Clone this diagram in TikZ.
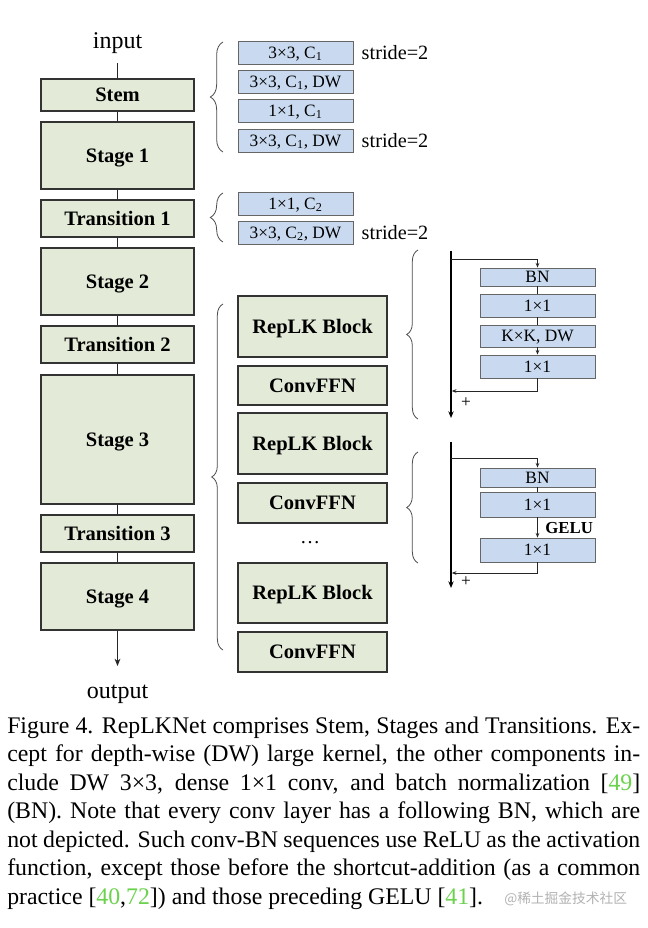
\documentclass[tikz,border=0pt]{standalone}
\usepackage{fontspec}
\setmainfont{Liberation Serif}
\newfontfamily\cjk{Noto Sans CJK SC}
\usetikzlibrary{arrows.meta,decorations.pathreplacing,calc}
\definecolor{gfill}{HTML}{E3EBD8}
\definecolor{bfill}{HTML}{C9DAF0}
\definecolor{citegreen}{HTML}{6CD24E}
\tikzset{
 gbox/.style={draw=black!80, fill=gfill, line width=0.8pt, inner sep=0pt, minimum width=114.75pt, font=\fontsize{15.4}{18}\selectfont\bfseries, text height=10.2pt, text depth=0pt},
 rbox/.style={gbox, minimum width=111.75pt},
 bbox/.style={draw=black!60, fill=bfill, line width=0.7pt, inner sep=0pt, minimum width=86.25pt, minimum height=17.25pt, font=\fontsize{13}{15}\selectfont, text height=8.6pt, text depth=0pt},
 conn/.style={draw=black!85, line width=0.75pt},
 arr/.style={conn, -{Stealth[length=5.5pt,width=4.4pt]}},
 thin/.style={draw=black!85, line width=0.6pt},
 sarr/.style={thin, -{Stealth[length=3.5pt,width=2.8pt]}},
 mainln/.style={draw=black, line width=1.3pt, -{Stealth[length=5pt,width=4pt]}},
 brc/.style={draw=black!70, line width=0.6pt, decorate, decoration={brace, amplitude=8.5pt}},
 lbl/.style={inner sep=0pt},
 stride/.style={lbl, anchor=west, font=\fontsize{15.2}{18}\selectfont},
}
\begin{document}
\begin{tikzpicture}[x=0.75pt,y=-0.75pt]
\useasboundingbox[fill=white] (0,0) rectangle (648,928);

% ---------- left column ----------
\node[lbl, anchor=base, font=\fontsize{18}{21}\selectfont] (inp) at (117.5,48) {input};
\coordinate (inbot) at (117.5,63);
\node[gbox, minimum height=24pt] (stem) at (117.5,95) {Stem};
\node[gbox, minimum height=50.25pt] (s1) at (117.5,155.5) {Stage 1};
\node[gbox, minimum height=27.75pt] (t1) at (117.5,218.5) {Transition 1};
\node[gbox, minimum height=50.25pt] (s2) at (117.5,281.5) {Stage 2};
\node[gbox, minimum height=27.75pt] (t2) at (117.5,344.5) {Transition 2};
\node[gbox, minimum height=96.75pt] (s3) at (117.5,439.5) {Stage 3};
\node[gbox, minimum height=27.75pt] (t3) at (117.5,533.5) {Transition 3};
\node[gbox, minimum height=50.25pt] (s4) at (117.5,596.5) {Stage 4};
\coordinate (outend) at (117.5,666);
\node[lbl, anchor=base, font=\fontsize{18}{21}\selectfont] (outp) at (117.5,698) {output};

\draw[conn] (inbot) -- (stem);
\draw[conn] (stem) -- (s1);
\draw[conn] (s1) -- (t1);
\draw[conn] (t1) -- (s2);
\draw[conn] (s2) -- (t2);
\draw[conn] (t2) -- (s3);
\draw[conn] (s3) -- (t3);
\draw[conn] (t3) -- (s4);
\draw[arr] (s4) -- (outend);

% ---------- stem / transition details ----------
\node[bbox] (b1) at (295.5,52.5) {3×3, C\textsubscript{1}};
\node[bbox] (b2) at (295.5,81.5) {3×3, C\textsubscript{1}, DW};
\node[bbox] (b3) at (295.5,110.5) {1×1, C\textsubscript{1}};
\node[bbox] (b4) at (295.5,140.5) {3×3, C\textsubscript{1}, DW};
\node[bbox] (b5) at (295.5,203.5) {1×1, C\textsubscript{2}};
\node[bbox] (b6) at (295.5,232.5) {3×3, C\textsubscript{2}, DW};
\node[stride] (st1) at ([xshift=6pt]b1.east) {stride=2};
\node[stride] (st2) at ([xshift=6pt]b4.east) {stride=2};
\node[stride] (st3) at ([xshift=6pt]b6.east) {stride=2};

\coordinate (br1b) at (223,152); \coordinate (br1t) at (223,42);
\coordinate (br2b) at (223,242); \coordinate (br2t) at (223,193);
\coordinate (br3b) at (223,650); \coordinate (br3t) at (223,304);
\draw[brc, decoration={amplitude=9.5pt}] (br1b) -- (br1t);
\draw[brc, decoration={amplitude=9.5pt}] (br2b) -- (br2t);
\draw[brc] (br3b) -- (br3t);

% ---------- stage blocks ----------
\node[rbox, minimum height=45.75pt] (rk1) at (312.5,326.5) {RepLK Block};
\node[rbox, minimum height=29.25pt] (cf1) at (312.5,385.5) {ConvFFN};
\node[rbox, minimum height=45.75pt] (rk2) at (312.5,443.5) {RepLK Block};
\node[rbox, minimum height=30pt] (cf2) at (312.5,503) {ConvFFN};
\node[lbl, font=\fontsize{15}{18}\selectfont] (dots) at (310,543) {\ldots};
\node[rbox, minimum height=45pt] (rk3) at (312.5,593) {RepLK Block};
\node[rbox, minimum height=30pt] (cf3) at (312.5,652) {ConvFFN};

% ---------- RepLK block detail ----------
\coordinate (br4b) at (418,419); \coordinate (br4t) at (418,250);
\coordinate (br5b) at (418,563); \coordinate (br5t) at (418,452);
\draw[brc] (br4b) -- (br4t);
\draw[brc] (br5b) -- (br5t);

\coordinate (mAt) at (451,251); \coordinate (mAb) at (451,418);
\coordinate (skA) at (451,259); \coordinate (reA) at (451,391);
\draw[mainln] (mAt) -- (mAb);
\node[bbox, minimum height=13.5pt] (bnA) at (537.5,277) {BN};
\node[bbox] (c1A) at (537.5,305.5) {1×1};
\node[bbox, minimum height=16.5pt] (kkA) at (537.5,336) {K×K, DW};
\node[bbox] (c2A) at (537.5,366.5) {1×1};
\draw[sarr] (skA) -| (bnA.north);
\draw[thin] (bnA) -- (c1A);
\draw[thin] (c1A) -- (kkA);
\draw[sarr] (kkA) -- (c2A);
\draw[sarr, shorten >=0.6pt] (c2A.south) |- (reA);
\node[lbl, font=\fontsize{13}{15}\selectfont] (plA) at (466,403) {+};

% ---------- ConvFFN detail ----------
\coordinate (mBt) at (451,442); \coordinate (mBb) at (451,588);
\coordinate (skB) at (451,458); \coordinate (reB) at (451,573);
\draw[mainln] (mBt) -- (mBb);
\node[bbox, minimum height=14.25pt] (bnB) at (537.5,477.5) {BN};
\node[bbox, minimum height=18.75pt] (c1B) at (537.5,504.5) {1×1};
\node[bbox, minimum height=18pt] (c2B) at (537.5,550) {1×1};
\draw[sarr] (skB) -| (bnB.north);
\draw[thin] (bnB) -- (c1B);
\draw[sarr] (c1B) -- (c2B);
\node[lbl, anchor=west, font=\fontsize{12.6}{15}\selectfont\bfseries] (gelu) at (545,528) {GELU};
\draw[sarr, shorten >=0.6pt] (c2B.south) |- (reB);
\node[lbl, font=\fontsize{13}{15}\selectfont] (plB) at (466,582) {+};

% ---------- caption ----------
\node[anchor=north west, inner sep=0pt, text width=474.75pt, align=justify, font=\fontsize{17.85}{21.4}\selectfont] (cap) at (7,716.5) {Figure 4. RepLKNet comprises Stem, Stages and Transitions. Ex-\linebreak cept for depth-wise (DW) large kernel, the other components in-\linebreak clude DW 3×3, dense 1×1 conv, and batch normalization [\textcolor{citegreen}{49}]\linebreak (BN). Note that every conv layer has a following BN, which are\linebreak not depicted. Such conv-BN sequences use ReLU as the activation\linebreak function, except those before the shortcut-addition (as a common\linebreak practice [\textcolor{citegreen}{40},\textcolor{citegreen}{72}]) and those preceding GELU [\textcolor{citegreen}{41}].};
\node[lbl, anchor=base west, font=\cjk\fontsize{10.3}{12}\selectfont, text=black!30] (wm) at (504,903) {@稀土掘金技术社区};
\end{tikzpicture}
\end{document}
